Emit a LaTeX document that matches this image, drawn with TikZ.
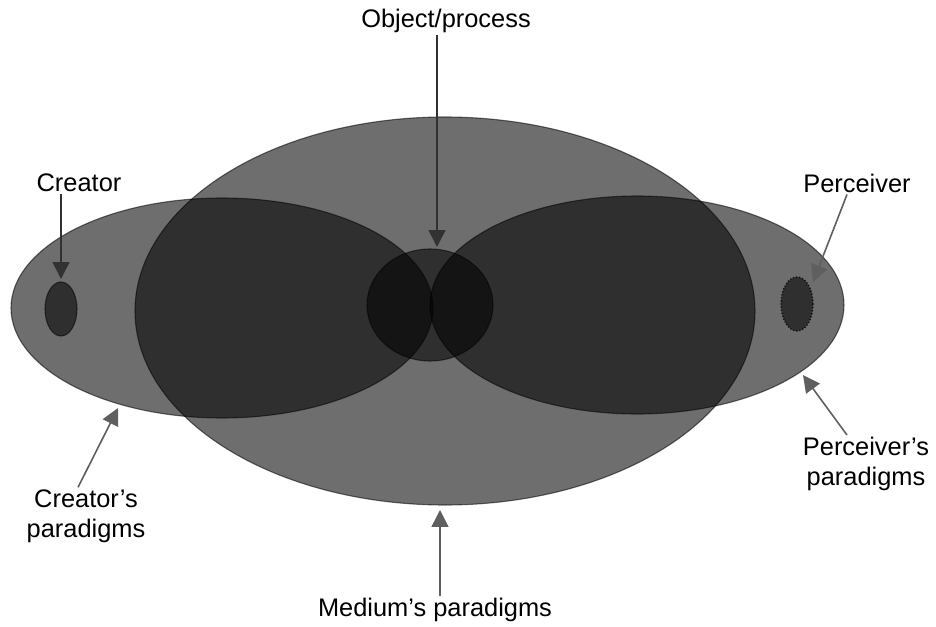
\documentclass[tikz,border=0pt]{standalone}
\usepackage{fontspec}
\setmainfont{Liberation Sans}
\usetikzlibrary{arrows.meta}
\definecolor{figD}{RGB}{50,50,50}
\definecolor{figA}{RGB}{95,95,95}
\tikzset{
  para/.style={fill=black, fill opacity=0.57, draw=black, draw opacity=0.55, line width=1.1pt},
  lbl/.style={font=\fontsize{25.5}{30}\selectfont, inner sep=2pt, align=center, text=black},
  pointer/.style={-{Triangle[length=17pt,width=17pt]}, draw=figA, fill=figA, line width=1.6pt},
}

\begin{document}
\begin{tikzpicture}[x=1bp, y=-1bp]
\useasboundingbox (0,0) rectangle (936,627);
% paradigm ellipses, stacked with transparency
\path[para] (445,311) ellipse (310 and 194);
\path[para] (222,308) ellipse (211 and 110);
\path[para] (637,305) ellipse (207 and 109);
% object/process in the middle
\path[para] (430,305) ellipse (63 and 56);
% creator and perceiver
\path[para] (61,309) ellipse (16 and 27);
\path[para, dotted, line width=1.4pt, draw opacity=0.9] (797,304) ellipse (16 and 27);
% arrow tips on the shapes
\coordinate (objTip) at (437,247);
\coordinate (creTip) at (61,279);
\coordinate (perTip) at (813,282);
\coordinate (perpTip) at (803,375);
\coordinate (crepTip) at (118,408);
\coordinate (medTip) at (440,510);
% labels
\node[lbl] (obj) at (446,21) {Object/process};
\node[lbl] (cre) at (79,183) {Creator};
\node[lbl] (per) at (857,183) {Perceiver};
\node[lbl] (perp) at (866,464) {Perceiver’s\\paradigms};
\node[lbl] (crep) at (86,516) {Creator’s\\paradigms};
\node[lbl] (med) at (435,610) {Medium’s paradigms};
% pointers
\draw[pointer, draw=figD, fill=figD] (obj.south -| objTip) -- (objTip);
\draw[pointer, draw=figD, fill=figD] (cre.south -| creTip) -- (creTip);
\draw[pointer] ([xshift=-10bp]per.south) -- (perTip);
\draw[pointer] ([xshift=-19bp]perp.north) -- (perpTip);
\draw[pointer] ([xshift=-8bp]crep.north) -- (crepTip);
\draw[pointer] (med.north -| medTip) -- (medTip);
\end{tikzpicture}
\end{document}
